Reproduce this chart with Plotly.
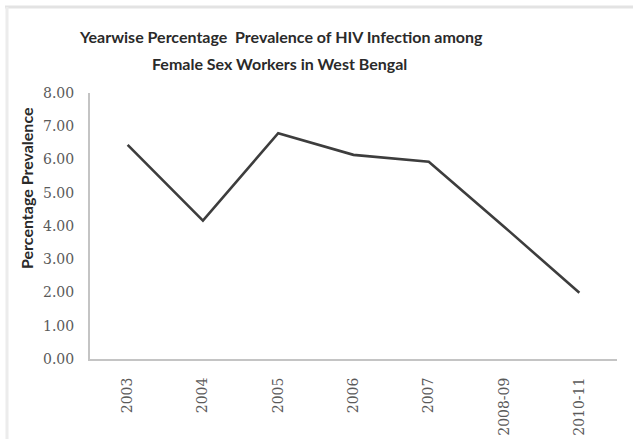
import plotly.graph_objects as go

# Survey periods and HIV prevalence (%) among female sex workers, West Bengal
periods = ["2003", "2004", "2005", "2006", "2007", "2008-09", "2010-11"]
prevalence = [6.44, 4.16, 6.79, 6.14, 5.93, 3.98, 1.99]
y_ticks = [0, 1, 2, 3, 4, 5, 6, 7, 8]
y_tick_text = ["0.00", "1.00", "2.00", "3.00", "4.00", "5.00", "6.00", "7.00", "8.00"]

W, H = 633, 439
L, R, T, B = 90, 16, 93, 80
PW, PH = W - L - R, H - T - B


def px(x):
    return (x - L) / PW


def py(y):
    return (H - B - y) / PH


fig = go.Figure()
fig.add_trace(go.Scatter(
    x=periods, y=prevalence, mode="lines",
    line=dict(color="#3d3d3d", width=2.6),
    hoverinfo="x+y", showlegend=False,
))

title_font = dict(family="Lato", size=16, color="#2a2a2a")
annotations = [
    dict(text="<b>Yearwise Percentage  Prevalence of HIV Infection among</b>",
         x=px(281), y=py(36), font=title_font),
    dict(text="<b>Female Sex Workers in West Bengal</b>",
         x=px(279), y=py(63), font=title_font),
    dict(text="<b>Percentage Prevalence</b>", textangle=-90,
         x=px(26), y=py(188), font=dict(family="Lato", size=16, color="#2a2a2a")),
]
for a in annotations:
    a.update(xref="paper", yref="paper", showarrow=False,
             xanchor="center", yanchor="middle")

# faint frame of the chart area along the top and left edges
shapes = [
    dict(type="line", xref="paper", yref="paper",
         x0=px(5), x1=px(W), y0=py(7), y1=py(7),
         line=dict(color="#e3e3e3", width=3)),
    dict(type="line", xref="paper", yref="paper",
         x0=px(7), x1=px(7), y0=py(7), y1=py(H),
         line=dict(color="#ececec", width=3)),
]

tick_font = dict(family="DejaVu Serif", size=14, color="#5a5a5a")

fig.update_layout(
    width=W, height=H,
    margin=dict(l=L, r=R, t=T, b=B, pad=0, autoexpand=False),
    paper_bgcolor="white", plot_bgcolor="white",
    annotations=annotations, shapes=shapes,
    xaxis=dict(
        type="category", range=[-0.5, len(periods) - 0.5],
        showline=True, linecolor="#c4c4c4", linewidth=2,
        showgrid=False, zeroline=False, ticks="",
        tickangle=-90, ticklabelstandoff=11, automargin=False,
        tickfont=tick_font,
    ),
    yaxis=dict(
        range=[0, 8], tickvals=y_ticks, ticktext=y_tick_text,
        showline=True, linecolor="#c4c4c4", linewidth=2,
        showgrid=False, zeroline=False, ticks="",
        ticklabelstandoff=11, automargin=False,
        tickfont=tick_font,
    ),
)

fig.write_html("out.html")
